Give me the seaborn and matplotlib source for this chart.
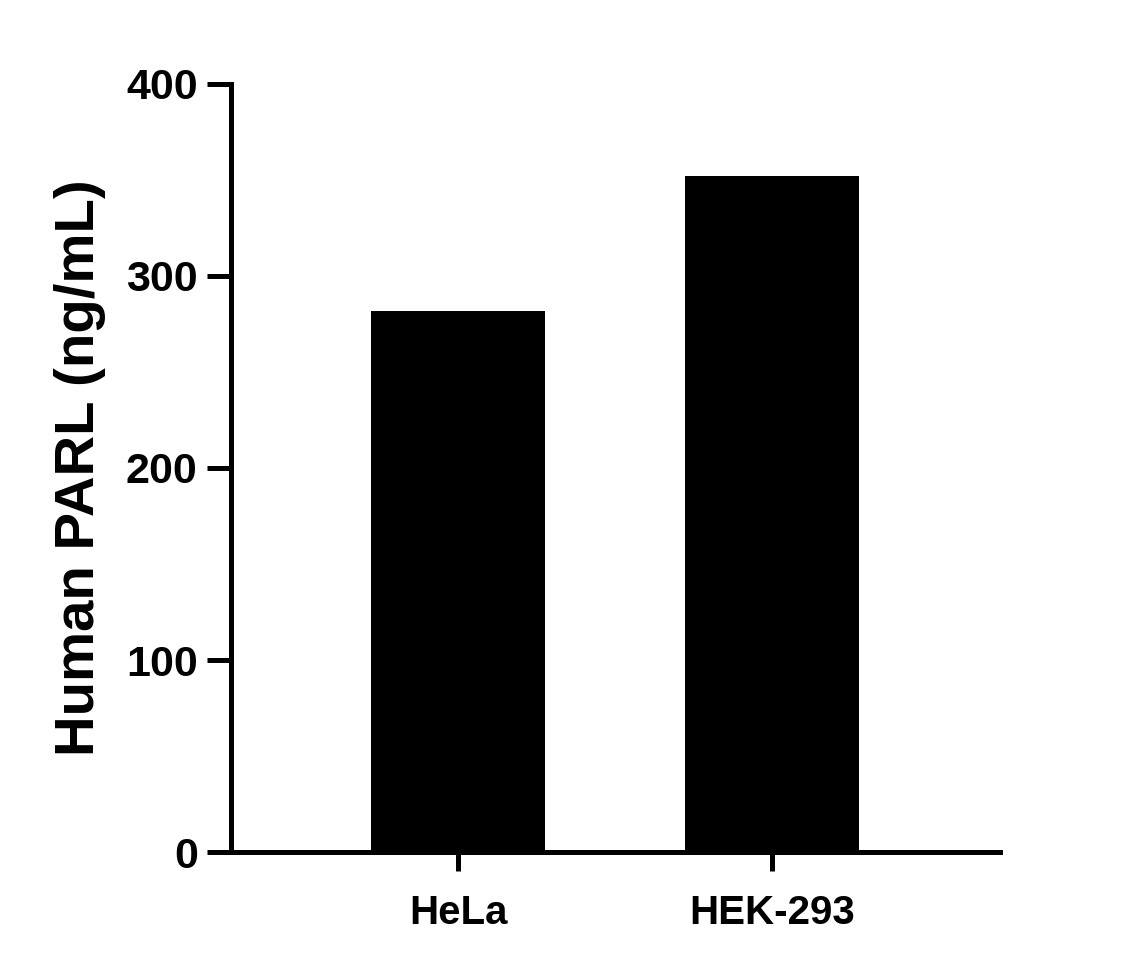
import matplotlib
matplotlib.use("Agg")
import matplotlib.pyplot as plt
import seaborn as sns
import pandas as pd

categories = ["HeLa", "HEK-293"]
values = [282, 352]
yticks = [0, 100, 200, 300, 400]

sns.set_theme(style="ticks")
plt.rcParams['font.family'] = ['Liberation Sans', 'DejaVu Sans']
plt.rcParams['text.color'] = 'black'
plt.rcParams['axes.labelcolor'] = 'black'
plt.rcParams['xtick.color'] = 'black'
plt.rcParams['ytick.color'] = 'black'

df = pd.DataFrame({"cell": categories, "val": values})

fig = plt.figure(figsize=(11.37, 9.68), dpi=100)
ax = fig.add_axes([231/1137, 1-852/968, (1000-231)/1137, (852-84)/968])
sns.barplot(data=df, x="cell", y="val", order=categories, color="black",
            width=0.554, saturation=1, ax=ax, edgecolor="black", linewidth=0)

ax.set_xlim(-0.723, 1.726)
ax.set_ylim(0, 400)
ax.set_yticks(yticks)
ax.set_yticklabels([str(t) for t in yticks])
ax.set_xlabel("")
ax.set_ylabel("Human PARL (ng/mL)", fontsize=40.5, fontweight="bold", labelpad=14,
              color="black")
for s in ["top", "right"]:
    ax.spines[s].set_visible(False)
for s in ["left", "bottom"]:
    ax.spines[s].set_linewidth(3.6)
    ax.spines[s].set_color("black")
ax.tick_params(axis="y", length=17, width=3.6, labelsize=31, pad=7,
               color="black", labelcolor="black")
ax.tick_params(axis="x", length=14, width=3.6, labelsize=29, pad=16,
               color="black", labelcolor="black")
for lab in ax.get_xticklabels() + ax.get_yticklabels():
    lab.set_fontweight("bold")

fig.savefig("out.png", dpi=100)
